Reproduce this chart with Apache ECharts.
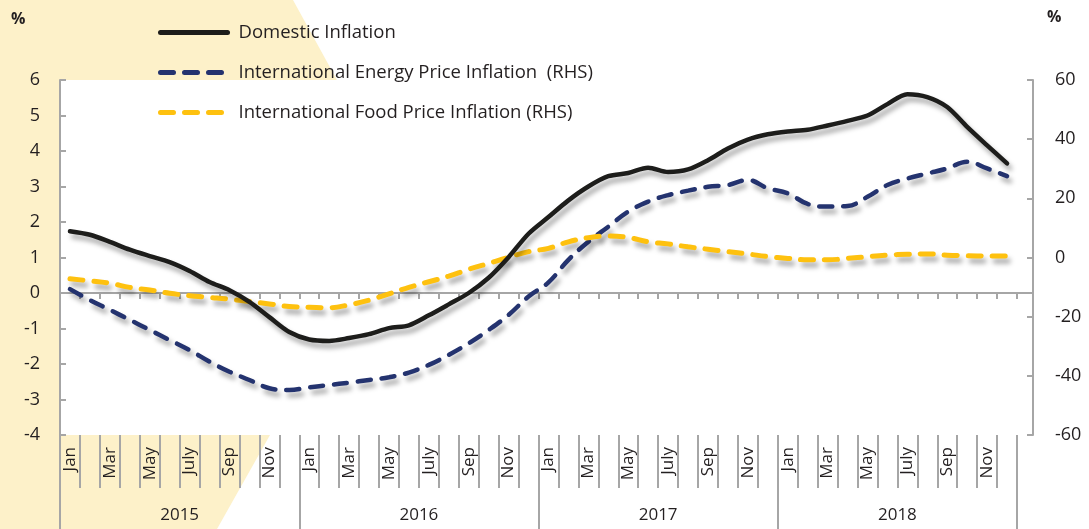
<!DOCTYPE html>
<html>
<head>
<meta charset="utf-8">
<script src="https://cdn.jsdelivr.net/npm/echarts@6/dist/echarts.min.js"></script>
<style>
html, body { margin: 0; padding: 0; background: #fff; }
#chart { width: 1089px; height: 529px; }
</style>
</head>
<body>
<div id="chart"></div>
<script>
var months = ['Jan', 'Feb', 'Mar', 'Apr', 'May', 'June', 'July', 'Aug', 'Sep', 'Oct', 'Nov', 'Dec'];
var years = ['2015', '2016', '2017', '2018'];

// Domestic inflation, % (left axis)
var domestic = [1.74, 1.64, 1.44, 1.22, 1.04, 0.87, 0.62, 0.31, 0.08, -0.25, -0.68, -1.10,
    -1.31, -1.35, -1.27, -1.16, -0.99, -0.91, -0.63, -0.32, 0.0, 0.43, 1.01, 1.67,
    2.14, 2.61, 3.0, 3.29, 3.38, 3.53, 3.41, 3.48, 3.74, 4.07, 4.32, 4.47,
    4.55, 4.60, 4.72, 4.85, 5.0, 5.32, 5.60, 5.52, 5.24, 4.68, 4.16, 3.65];
// International energy price inflation, % (right axis)
var energy = [-10.7, -14.4, -17.7, -21.1, -24.5, -27.9, -31.3, -35.2, -38.6, -41.4, -44.2, -44.8,
    -43.9, -43.1, -42.3, -41.4, -40.5, -38.9, -36.3, -32.9, -29.0, -24.5, -19.4, -13.2,
    -8.4, -0.8, 5.3, 10.4, 15.5, 18.9, 21.1, 22.6, 23.9, 24.5, 26.2, 23.4,
    21.7, 18.1, 17.2, 17.4, 20.5, 24.5, 26.7, 28.4, 30.1, 32.4, 30.1, 27.5];
// International food price inflation, % (right axis)
var food = [-7.2, -7.9, -8.7, -10.1, -11.0, -12.1, -12.9, -13.5, -14.1, -14.9, -15.7, -16.6,
    -16.8, -17.0, -16.0, -14.4, -12.3, -10.1, -8.2, -6.3, -4.0, -2.0, 0.1, 2.0,
    3.1, 5.3, 6.7, 7.3, 6.8, 5.3, 4.6, 3.6, 2.8, 2.0, 1.2, 0.3,
    -0.3, -0.8, -0.8, -0.3, 0.3, 0.8, 1.1, 1.2, 0.8, 0.6, 0.5, 0.5];

var categories = [];
years.forEach(function (y) {
    months.forEach(function (m) {
        categories.push(y + '-' + m);
    });
});

var font = '"Open Sans", "Noto Sans", sans-serif';
var textColor = '#231f20';
var grey = '#a6a6a6';
var shadow = {
    shadowColor: 'rgba(0,0,0,0.35)',
    shadowBlur: 5,
    shadowOffsetX: 3,
    shadowOffsetY: 5
};

var chart = echarts.init(document.getElementById('chart'));
var option = {
    backgroundColor: '#fff',
    animation: false,
    textStyle: { fontFamily: font },
    grid: { left: 60, top: 80, right: 72, bottom: 94 },
    graphic: [
        {
            type: 'polygon', z: -10, silent: true,
            shape: { points: [[0, 0], [293, 0], [337, 80], [337, 435], [270, 435], [217, 529], [0, 529]] },
            style: { fill: '#fdf1c9' }
        },
        {
            type: 'rect', z: -9, silent: true,
            shape: { x: 60, y: 80, width: 975, height: 355 },
            style: { fill: '#fff' }
        },
        {
            type: 'text', left: 11, top: 11,
            style: { text: '%', fill: textColor, font: 'bold 16px ' + font }
        },
        {
            type: 'text', left: 1047, top: 9,
            style: { text: '%', fill: textColor, font: 'bold 16px ' + font }
        }
    ],
    legend: {
        orient: 'vertical',
        left: 153,
        top: 18,
        itemWidth: 67,
        itemHeight: 16,
        itemGap: 21,
        itemStyle: { opacity: 0 },
        lineStyle: { width: 5, cap: 'round' },
        textStyle: { fontSize: 18.5, color: textColor, fontFamily: font, padding: [0, 0, 0, 6] },
        data: ['Domestic Inflation', 'International Energy Price Inflation  (RHS)', 'International Food Price Inflation (RHS)']
    },
    xAxis: [
        {
            type: 'category',
            data: categories,
            axisLine: { onZero: true, onZeroAxisIndex: 0, lineStyle: { color: grey, width: 2 } },
            axisTick: { show: true, interval: 0, length: 6, lineStyle: { color: grey, width: 2 } },
            axisLabel: { show: false }
        },
        {
            type: 'category',
            data: categories,
            position: 'bottom',
            axisLine: { show: false, onZero: false },
            axisTick: { show: true, interval: 0, length: 53, lineStyle: { color: grey, width: 2 } },
            axisLabel: {
                interval: 1,
                rotate: 90,
                margin: 12,
                fontSize: 17,
                color: textColor,
                fontFamily: font,
                formatter: function (v) { return v.split('-')[1]; }
            }
        },
        {
            type: 'category',
            data: years,
            position: 'bottom',
            axisLine: { show: false, onZero: false },
            axisTick: { show: true, interval: 0, length: 94, lineStyle: { color: grey, width: 2 } },
            axisLabel: { margin: 72, fontSize: 17, color: textColor, fontFamily: font }
        }
    ],
    yAxis: [
        {
            type: 'value',
            min: -4, max: 6, interval: 1,
            axisLine: { show: true, lineStyle: { color: grey, width: 2 } },
            axisTick: { show: true, inside: true, length: 6, lineStyle: { color: grey, width: 2 } },
            splitLine: { show: false },
            axisLabel: { margin: 20, fontSize: 18, color: textColor, fontFamily: font }
        },
        {
            type: 'value',
            position: 'right',
            offset: 16,
            min: -60, max: 60, interval: 20,
            axisLine: { show: true, lineStyle: { color: grey, width: 2 } },
            axisTick: { show: true, inside: true, length: 6, lineStyle: { color: grey, width: 2 } },
            splitLine: { show: false },
            axisLabel: { margin: 22, fontSize: 18, color: textColor, fontFamily: font }
        }
    ],
    series: [
        {
            name: 'Domestic Inflation',
            type: 'line',
            yAxisIndex: 0,
            data: domestic,
            smooth: 0.3,
            symbol: 'none',
            z: 4,
            lineStyle: Object.assign({ color: '#1d1d1b', width: 4.5, cap: 'round', join: 'round' }, shadow),
            itemStyle: { color: '#1d1d1b' }
        },
        {
            name: 'International Energy Price Inflation  (RHS)',
            type: 'line',
            yAxisIndex: 1,
            data: energy,
            smooth: 0.4,
            symbol: 'none',
            z: 3,
            lineStyle: Object.assign({ color: '#24336f', width: 4.5, type: [13, 11], cap: 'round' }, shadow),
            itemStyle: { color: '#24336f' }
        },
        {
            name: 'International Food Price Inflation (RHS)',
            type: 'line',
            yAxisIndex: 1,
            data: food,
            smooth: 0.4,
            symbol: 'none',
            z: 3,
            lineStyle: Object.assign({ color: '#fec10f', width: 5, type: [13, 11], cap: 'round' }, shadow),
            itemStyle: { color: '#fec10f' }
        }
    ]
};
chart.setOption(option);

// stretch the zero line out to the offset right axis
var zeroY = chart.convertToPixel({ yAxisIndex: 0 }, 0);
chart.setOption({
    graphic: option.graphic.concat([{
        type: 'line', silent: true,
        shape: { x1: 1017, y1: zeroY, x2: 1034, y2: zeroY },
        style: { stroke: grey, lineWidth: 2 }
    }])
});
</script>
</body>
</html>
